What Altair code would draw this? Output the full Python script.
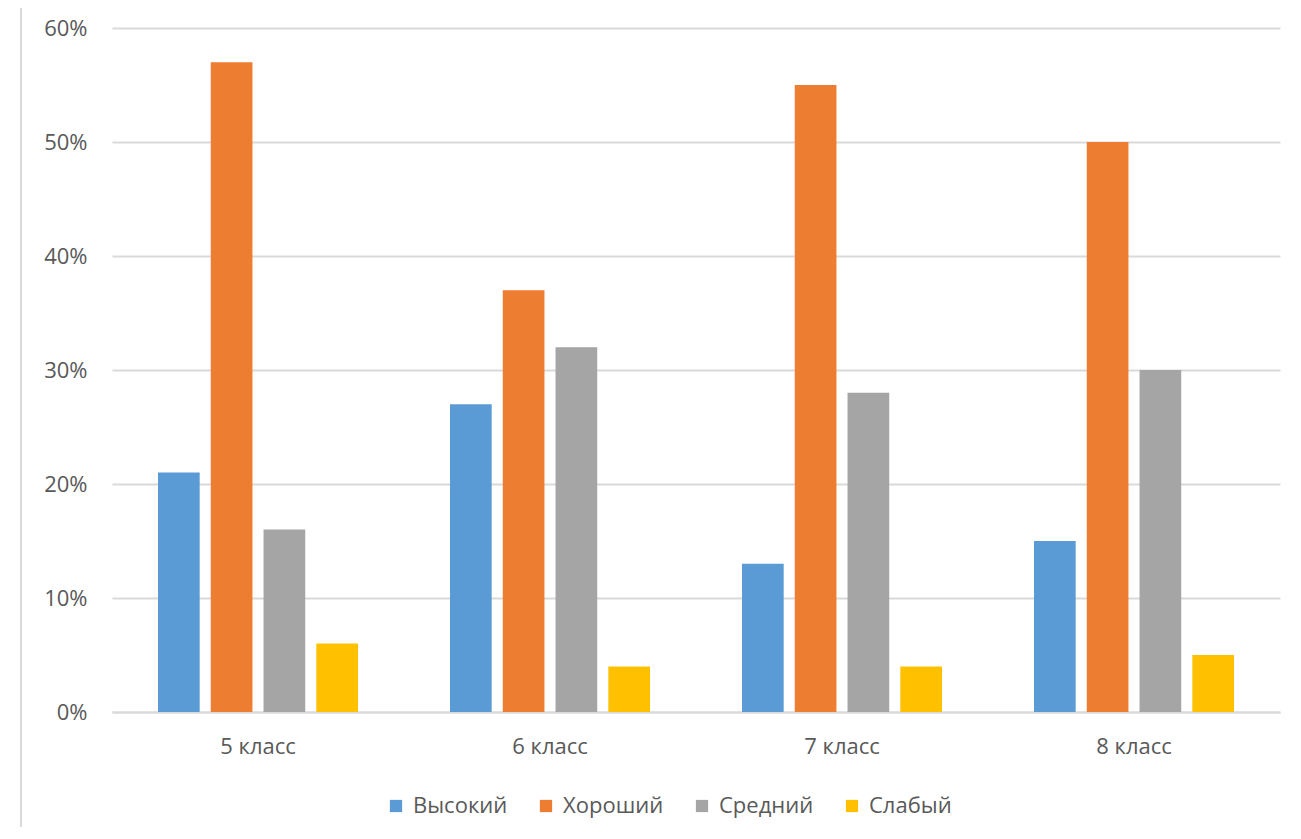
import altair as alt
import pandas as pd

classes = ["5 класс", "6 класс", "7 класс", "8 класс"]
levels = ["Высокий", "Хороший", "Средний", "Слабый"]
vysokiy = [0.21, 0.27, 0.13, 0.15]
khoroshiy = [0.57, 0.37, 0.55, 0.50]
sredniy = [0.16, 0.32, 0.28, 0.30]
slabyy = [0.06, 0.04, 0.04, 0.05]
colors = ["#5B9BD5", "#ED7D31", "#A5A5A5", "#FFC000"]

rows = []
for lvl, vals in zip(levels, [vysokiy, khoroshiy, sredniy, slabyy]):
    for c, v in zip(classes, vals):
        rows.append({"cls": c, "level": lvl, "value": v})
df = pd.DataFrame(rows)

FONT = "Open Sans"
LABEL = "#595959"
FS = 22

bars = alt.Chart(df).mark_bar().encode(
    x=alt.X("cls:N", sort=classes, title=None,
            scale=alt.Scale(paddingInner=0.315, paddingOuter=0.1575),
            axis=alt.Axis(labelAngle=0, labelFontSize=FS, labelColor=LABEL, labelFont=FONT,
                          ticks=False, domain=True, domainColor="#D9D9D9", domainWidth=2,
                          labelPadding=24, grid=False)),
    xOffset=alt.XOffset("level:N", sort=levels,
                        scale=alt.Scale(paddingInner=0.21, paddingOuter=0)),
    y=alt.Y("value:Q", title=None,
            scale=alt.Scale(domain=[0, 0.6], nice=False),
            axis=alt.Axis(format=".0%", values=[0, 0.1, 0.2, 0.3, 0.4, 0.5, 0.6],
                          labelFontSize=FS, labelColor=LABEL, labelFont=FONT,
                          ticks=False, domain=False, labelPadding=25,
                          gridColor="#D9D9D9", gridWidth=2)),
    color=alt.Color("level:N", sort=levels, title=None,
                    scale=alt.Scale(domain=levels, range=colors),
                    legend=alt.Legend(orient="none", legendX=273, legendY=767,
                                      direction="horizontal", symbolType="square",
                                      symbolSize=150, symbolStrokeWidth=0,
                                      labelFontSize=FS, labelColor=LABEL, labelFont=FONT,
                                      columnPadding=27, labelOffset=6)),
)

border = alt.Chart(pd.DataFrame({"v": [0]})).mark_rule(color="#D9D9D9", strokeWidth=2, clip=False).encode(
    x=alt.value(-91), y=alt.value(-30), y2=alt.value(807)
)

chart = alt.layer(bars, border).properties(
    width=1168, height=684,
    padding={"left": 104, "top": 20, "right": 5, "bottom": 115},
    autosize=alt.AutoSizeParams(type="none"),
    background="white",
).configure_view(stroke=None)

chart.save("out.html", embed_options={"renderer": "svg", "actions": False})
